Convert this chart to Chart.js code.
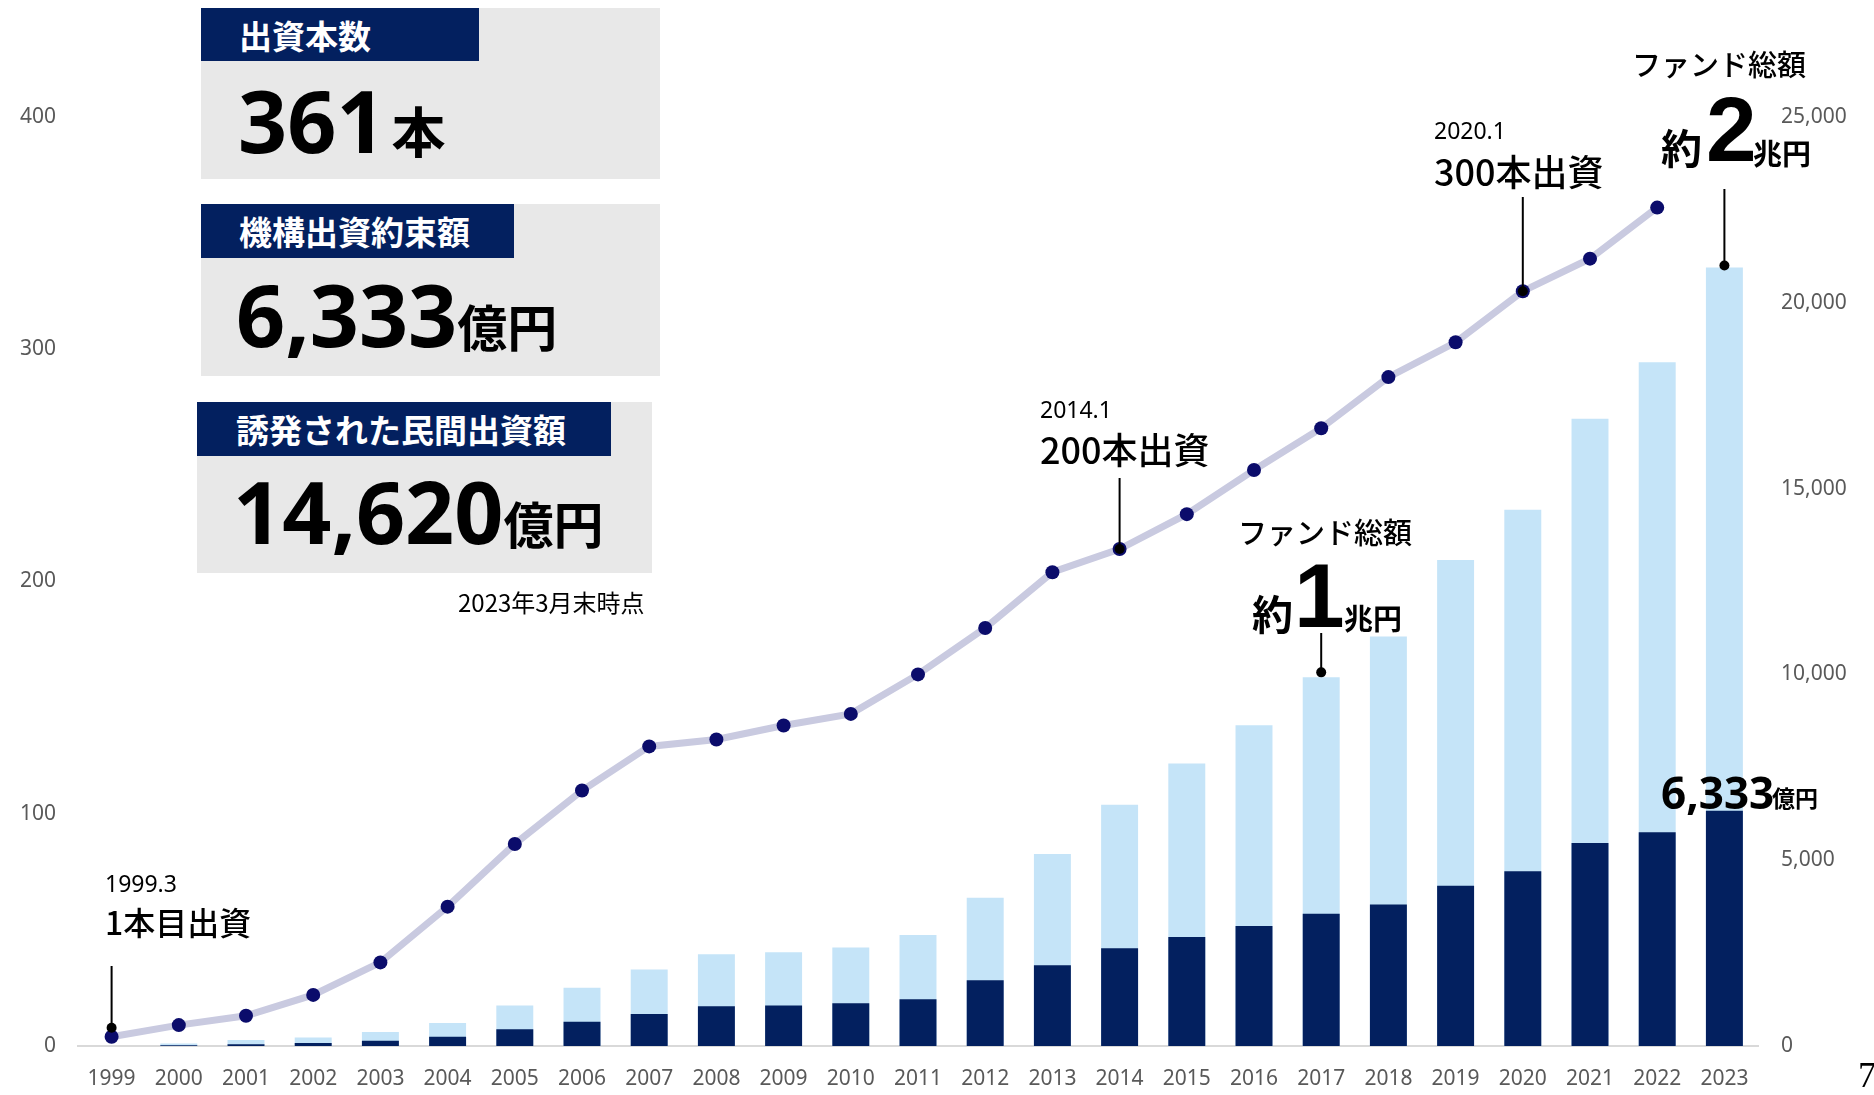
<!DOCTYPE html>
<html lang="ja">
<head>
<meta charset="utf-8">
<script src="https://cdn.jsdelivr.net/npm/chart.js@4.4.0/dist/chart.umd.min.js"></script>
<style>
html, body { margin: 0; padding: 0; background: #fff; }
#wrap { position: relative; width: 1874px; height: 1095px; overflow: hidden; font-family: "Noto Sans", "Noto Sans CJK JP", sans-serif; }
#wrap canvas { position: absolute; left: 0; top: 0; }
.box { position: absolute; background: #e8e8e8; }
.head { position: absolute; background: #03205f; color: #fff; font-family: "Noto Sans CJK JP", sans-serif; font-weight: 700; font-size: 33px; display: flex; align-items: center; box-sizing: border-box; }
.big { position: absolute; white-space: nowrap; font-family: "Noto Sans", sans-serif; font-weight: 700; font-size: 86px; line-height: 86px; color: #000; }
.big .u { font-family: "Noto Sans CJK JP", sans-serif; font-weight: 700; font-size: 50px; }
.t { position: absolute; white-space: nowrap; color: #000; }
</style>
</head>
<body>
<div id="wrap">
  <canvas id="fundChart" width="1874" height="1095"></canvas>

  <!-- summary boxes -->
  <div class="box" style="left:201px; top:8px; width:459px; height:171px;"></div>
  <div class="head" style="left:201px; top:8px; width:278px; height:53px; padding-left:38px;">出資本数</div>
  <div class="big" style="left:238px; top:77px;">361<span class="u" style="font-size:54px; margin-left:6px;">本</span></div>

  <div class="box" style="left:201px; top:204px; width:459px; height:172px;"></div>
  <div class="head" style="left:201px; top:204px; width:313px; height:54px; padding-left:38px;">機構出資約束額</div>
  <div class="big" style="left:236px; top:271px;">6,333<span class="u">億円</span></div>

  <div class="box" style="left:197px; top:402px; width:455px; height:171px;"></div>
  <div class="head" style="left:197px; top:402px; width:414px; height:54px; padding-left:39px;">誘発された民間出資額</div>
  <div class="big" style="left:233px; top:468px;">14,620<span class="u">億円</span></div>
</div>

<script>
// ---- data ----
const years = ['1999', '2000', '2001', '2002', '2003', '2004', '2005', '2006', '2007', '2008', '2009', '2010', '2011',
    '2012', '2013', '2014', '2015', '2016', '2017', '2018', '2019', '2020', '2021', '2022', '2023'];

// 出資本数 (cumulative, left axis)
const fundCount = [4, 9, 13, 22, 36, 60, 87, 110, 129, 132, 138, 143, 160,
    180, 204, 214, 229, 248, 266, 288, 303, 325, 339, 361, null];

// ファンド総額 (億円, right axis)
const fundTotal = [0, 70, 160, 230, 380, 620, 1090, 1570, 2060, 2470, 2520, 2650, 2990,
    3990, 5170, 6490, 7600, 8630, 9920, 11020, 13080, 14430, 16880, 18400, 20950];

// 機構出資約束額 (億円, right axis)
const kikoInvest = [0, 20, 50, 80, 140, 250, 450, 650, 860, 1070, 1090, 1150, 1260,
    1770, 2170, 2630, 2930, 3230, 3560, 3810, 4310, 4700, 5460, 5750, 6333];

const leftTicks = [0, 100, 200, 300, 400];
const rightTicks = [0, 5000, 10000, 15000, 20000, 25000];

// leader lines: which point / bar they go to, where the line starts
const leaders = [
    { idx: 0, axis: 'y', from: 966, gap: 9 },
    { idx: 15, axis: 'y', from: 478, gap: 0 },
    { idx: 21, axis: 'y', from: 197, gap: 0 },
    { idx: 18, axis: 'y1', from: 633, gap: 5 },
    { idx: 24, axis: 'y1', from: 189, gap: 2 }
];

// ---- text labels on the chart ----
const CJK = '"Noto Sans CJK JP", sans-serif';
const LAT = '"Noto Sans", sans-serif';
function addText(txt, x, cy, size, weight, family) {
    const d = document.createElement('div');
    d.className = 't';
    d.textContent = txt;
    d.style.left = x + 'px';
    d.style.top = (cy - size / 2) + 'px';
    d.style.fontSize = size + 'px';
    d.style.lineHeight = size + 'px';
    d.style.fontWeight = weight;
    d.style.fontFamily = family;
    document.getElementById('wrap').appendChild(d);
    return d;
}

addText('2023年3月末時点', 458, 602, 24, 400, CJK);

addText('1999.3', 105, 883, 23, 400, LAT);
addText('1本目出資', 105, 921, 32, 500, CJK);
addText('2014.1', 1040, 409, 23, 400, LAT);
addText('200本出資', 1040, 448, 36, 500, CJK);
addText('2020.1', 1434, 130, 23, 400, LAT);
addText('300本出資', 1434, 170, 36, 500, CJK);

addText('ファンド総額', 1238, 531, 29, 500, CJK);
addText('約', 1252, 612, 41, 700, CJK);
addText('1', 1294, 595, 91, 700, '"Liberation Sans", sans-serif');
addText('兆円', 1344, 617, 29, 700, CJK);

addText('ファンド総額', 1632, 63, 29, 500, CJK);
addText('約', 1661, 146, 41, 700, CJK);
addText('2', 1706, 129, 91, 700, '"Liberation Sans", sans-serif');
addText('兆円', 1753, 152, 29, 700, CJK);

addText('6,333', 1661, 792, 44, 700, LAT);
addText('億円', 1772, 797, 23, 700, CJK);

addText('7', 1858, 1075, 36, 400, '"Liberation Serif", serif');

// ---- leader lines plugin ----
const leaderLines = {
    id: 'leaderLines',
    afterDatasetsDraw(chart) {
        const { ctx, scales } = chart;
        ctx.save();
        ctx.strokeStyle = '#000';
        ctx.fillStyle = '#000';
        ctx.lineWidth = 2;
        leaders.forEach(l => {
            const x = scales.x.getPixelForValue(l.idx);
            const v = l.axis === 'y' ? fundCount[l.idx] : fundTotal[l.idx];
            const yEnd = scales[l.axis].getPixelForValue(v) - l.gap;
            ctx.beginPath();
            ctx.moveTo(x, l.from);
            ctx.lineTo(x, yEnd);
            ctx.stroke();
            ctx.beginPath();
            ctx.arc(x, yEnd, 5, 0, Math.PI * 2);
            ctx.fill();
        });
        ctx.restore();
    }
};

// ---- chart ----
const tickFont = { family: '"Noto Sans", sans-serif', size: 21 };

new Chart(document.getElementById('fundChart').getContext('2d'), {
    data: {
        labels: years,
        datasets: [
            {
                type: 'line',
                label: '出資本数',
                data: fundCount,
                yAxisID: 'y',
                borderColor: '#c9cae0',
                borderWidth: 7,
                pointRadius: 7,
                pointBackgroundColor: '#0b0c6b',
                pointBorderWidth: 0,
                tension: 0,
                order: 1
            },
            {
                type: 'bar',
                label: '機構出資約束額',
                data: kikoInvest,
                yAxisID: 'y1',
                backgroundColor: '#03205f',
                grouped: false,
                barPercentage: 0.55,
                categoryPercentage: 1,
                order: 2
            },
            {
                type: 'bar',
                label: 'ファンド総額',
                data: fundTotal,
                yAxisID: 'y1',
                backgroundColor: '#c5e4f8',
                grouped: false,
                barPercentage: 0.55,
                categoryPercentage: 1,
                order: 3
            }
        ]
    },
    options: {
        responsive: false,
        animation: false,
        layout: { padding: { top: 117, left: 0, right: 0, bottom: 0 } },
        plugins: { legend: { display: false }, tooltip: { enabled: false } },
        scales: {
            x: {
                grid: { display: false },
                border: { display: true, color: '#d9d9d9', width: 2 },
                ticks: { color: '#595959', font: tickFont, padding: 12, maxRotation: 0, autoSkip: false },
                afterFit: s => { s.height = 49; }
            },
            y: {
                position: 'left',
                min: leftTicks[0],
                max: leftTicks[leftTicks.length - 1],
                grid: { display: false },
                border: { display: false },
                ticks: { stepSize: 100, color: '#595959', font: tickFont, padding: 14 },
                afterFit: s => { s.width = 78; }
            },
            y1: {
                position: 'right',
                min: rightTicks[0],
                max: rightTicks[rightTicks.length - 1],
                grid: { display: false },
                border: { display: false },
                ticks: {
                    stepSize: 5000, color: '#595959', font: tickFont, padding: 15,
                    callback: v => v.toLocaleString('en-US')
                },
                afterFit: s => { s.width = 116; }
            }
        }
    },
    plugins: [leaderLines]
});
</script>
</body>
</html>
